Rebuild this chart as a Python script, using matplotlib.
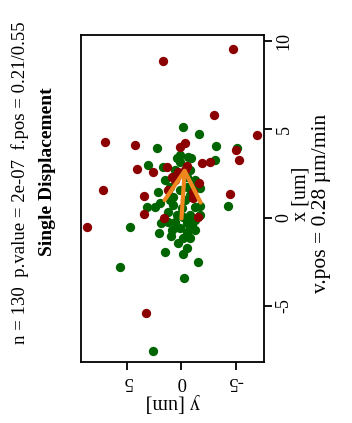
import matplotlib
matplotlib.use("Agg")
from matplotlib import pyplot as plt

# displacement end points (x, y in um) - the chart is drawn turned by 90 degrees
red_x = [8.87, 9.55, 5.82, 4.65, 4.29, 4.10, 2.73, 1.54, -0.52, 1.20, 0.20, -5.42,
         3.82, 3.25, 1.31, 3.16, 3.07, 1.97, 0.01, 4.20, 4.01, 2.59, 2.87, 2.31,
         2.91, 1.56, 2.12, 1.46, -0.01, 1.12, 2.69, 2.58]
red_y = [1.71, -4.78, -2.97, -6.99, 7.03, 4.26, 4.10, 7.24, 8.75, 3.46, 3.46, 3.25,
         -5.00, -5.30, -4.47, -2.63, -1.86, -1.64, -1.55, -0.32, 0.14, 2.60, 1.37, 0.90,
         -0.48, 1.22, 0.60, -1.09, 1.61, -1.09, -0.32, 0.32]

green_x = [5.14, 4.73, 4.05, 3.92, 3.92, 3.25, 2.97, 2.87, 3.35, 3.54, 3.44, 1.46,
           1.65, 0.65, 0.65, 0.61, 0.57, 0.82, -0.55, -2.78, -0.29, -0.86, -1.05, -1.18,
           -0.71, -1.94, -2.07, -1.74, -2.50, -3.44, -7.54, 0.71, 0.52, -0.14, -0.52, -0.33,
           0.14, 0.05, 0.14, -0.24, -0.61, -0.80, 3.35, 3.16, 1.74, 1.56, 1.27, 1.18,
           1.74, 1.18, 2.31, 2.69, 1.84, 0.99, 0.99, 0.59, 0.31, -0.42, -0.71, -1.16,
           -1.44, 2.12, 2.12, 2.69, 0.14, -0.25]
green_y = [-0.17, -1.64, -3.18, 2.29, -5.09, -3.09, 3.06, 1.73, -0.85, 0.14, -0.63, 2.14,
           -1.71, -4.32, -1.71, 3.18, 2.44, 1.98, 4.75, 5.67, 1.89, 2.05, 0.97, -0.17,
           -1.25, 1.52, -0.11, -0.54, -1.49, -0.26, 2.60, 0.76, -0.02, -1.25, 0.44, -0.48,
           0.44, -0.17, -0.78, 0.60, 0.14, -0.48, 0.44, 0.14, 1.06, 0.14, -0.78, 0.76,
           -0.48, -1.09, -0.48, -0.78, -1.55, 1.06, -0.32, -1.25, 1.25, -0.97, 0.88, -0.78,
           0.32, -1.25, 1.52, 0.60, -1.71, 1.25]

# mean displacement arrow (x, y)
arrow_from = (-0.05, 0.0)
arrow_to = (2.87, -0.32)

x_ticks = [-5, 0, 5, 10]
y_ticks = [-5, 0, 5]

title = "Single Displacement"
subtitle = "n = 130  p.value = 2e-07  f.pos = 0.21/0.55"
x_label = "x [um]"
v_label = "v.pos = 0.28 \u00b5m/min"
y_label = "y [um]"

plt.rcParams['font.family'] = ['Liberation Serif', 'DejaVu Serif']

fig = plt.figure(figsize=(3.52, 4.23), dpi=100)
ax = fig.add_axes([0.2293, 0.1449, 0.5216, 0.7716])

# horizontal = y (reversed), vertical = x
ax.scatter(green_y, green_x, s=45, c='darkgreen', linewidths=0, zorder=2)
ax.scatter(red_y, red_x, s=45, c='darkred', linewidths=0, zorder=3)
ax.annotate('', xy=(arrow_to[1], arrow_to[0]), xytext=(arrow_from[1], arrow_from[0]),
            arrowprops=dict(arrowstyle='->,head_length=2.2,head_width=1.3',
                            color='#f0861e', lw=3, mutation_scale=10,
                            shrinkA=0, shrinkB=0), zorder=4)

ax.set_xlim(9.29, -7.64)
ax.set_ylim(-8.16, 10.31)

for sp in ax.spines.values():
    sp.set_linewidth(1.3)

ax.set_xticks(y_ticks)
ax.set_xticklabels([str(t) for t in y_ticks], rotation=180, fontsize=13.5)
ax.yaxis.tick_right()
ax.set_yticks(x_ticks)
ax.set_yticklabels([str(t) for t in x_ticks], rotation=90, va='center', fontsize=13)
ax.tick_params(axis='both', length=6, width=1.3, pad=2)

fig.text(0.134, 0.593, title, rotation=90, ha='center', va='center',
         fontsize=14, fontweight='bold')
fig.text(0.057, 0.567, subtitle, rotation=90, ha='center', va='center', fontsize=13.5)
fig.text(0.855, 0.541, x_label, rotation=90, ha='center', va='center', fontsize=14.5)
fig.text(0.913, 0.52, v_label, rotation=90, ha='center', va='center', fontsize=15.5)
fig.text(0.49, 0.048, y_label, rotation=180, ha='center', va='center', fontsize=14.5)

fig.savefig('out.png', dpi=100)
